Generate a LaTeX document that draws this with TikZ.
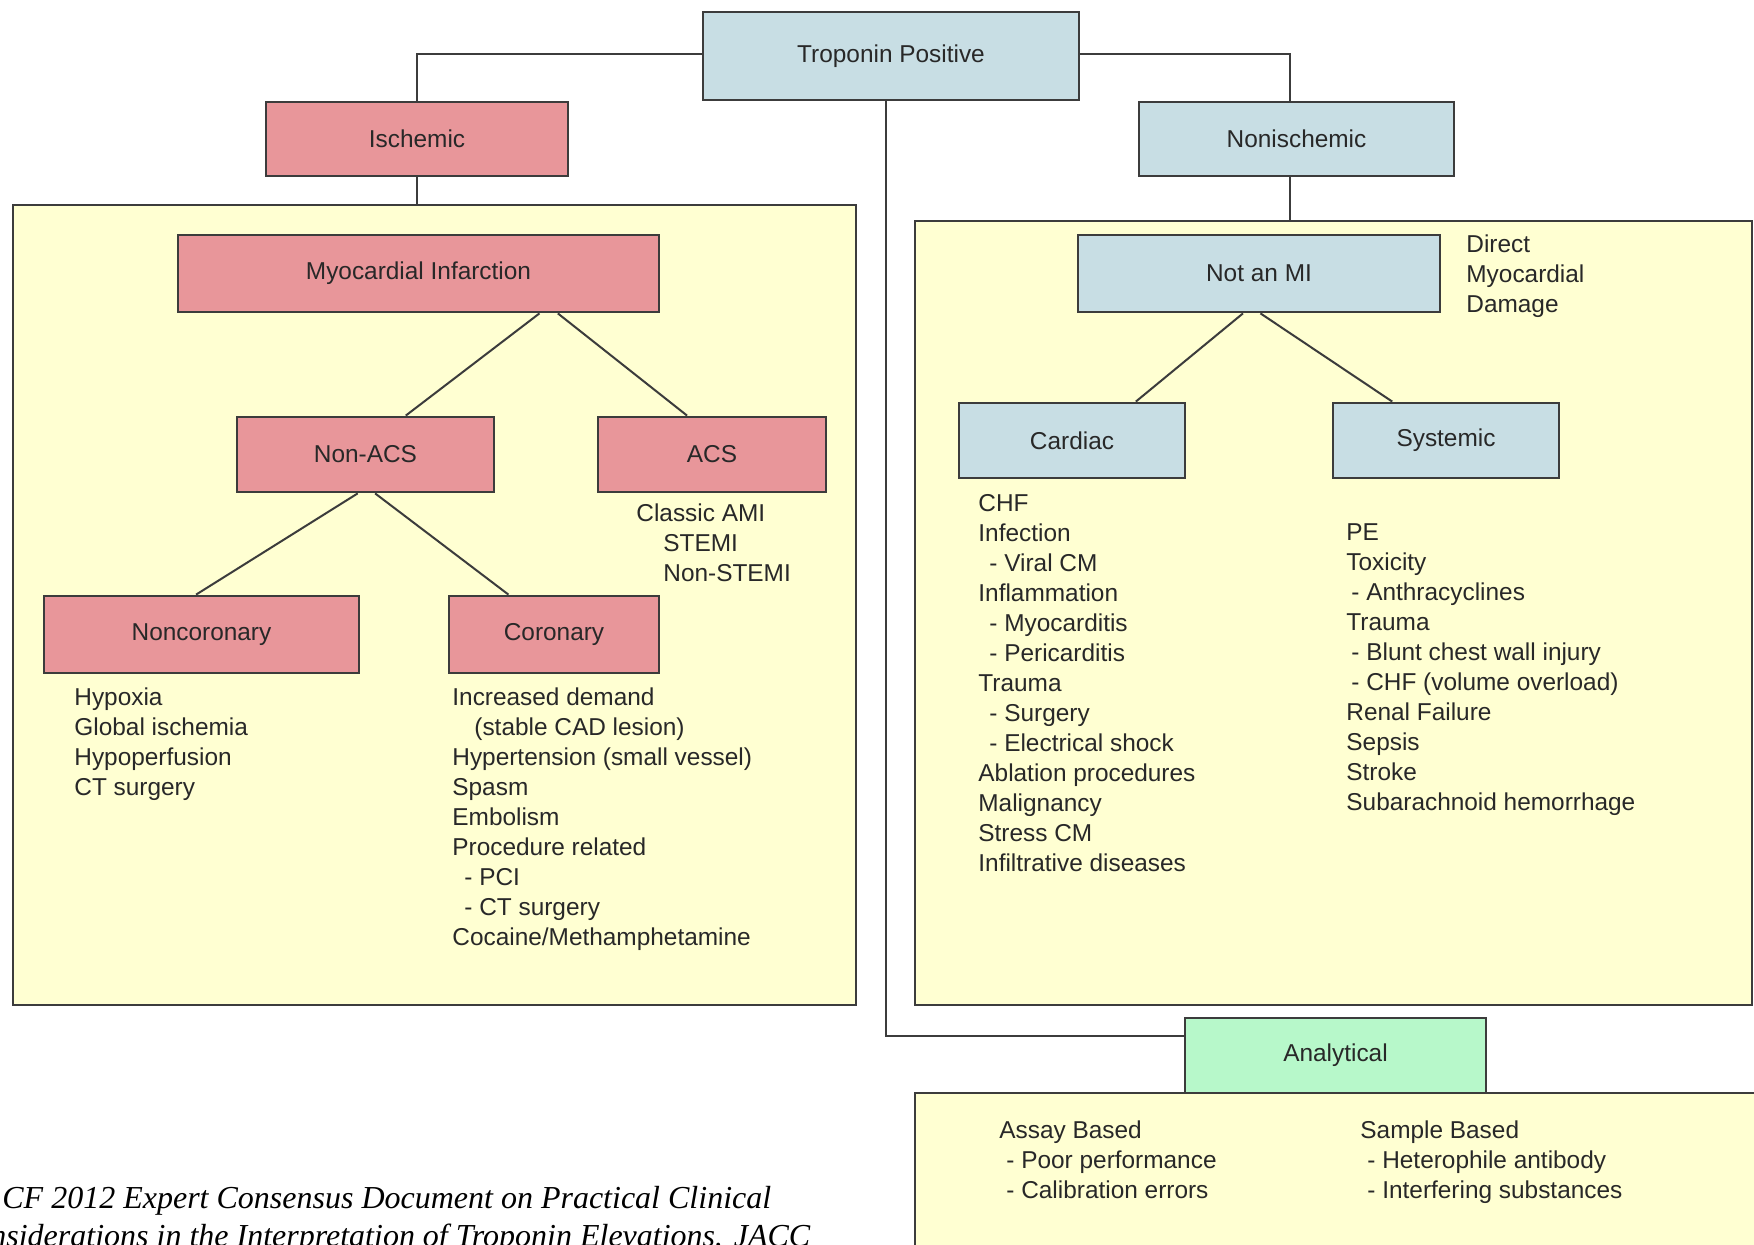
\documentclass[tikz,border=0pt]{standalone}
\usepackage{fontspec}
\setmainfont{Liberation Sans}
\newfontfamily\capfont{Liberation Serif}
\usetikzlibrary{calc}
\definecolor{pinkc}{RGB}{232,150,154}
\definecolor{bluec}{RGB}{200,222,228}
\definecolor{yellowc}{RGB}{255,255,210}
\definecolor{greenc}{RGB}{183,248,202}
\definecolor{linec}{RGB}{60,60,60}
\definecolor{textc}{RGB}{40,40,40}
\tikzset{
  box/.style={draw=linec, line width=1.4pt, inner sep=0pt, align=center, text=textc,
    font=\fontsize{12.2}{15}\selectfont},
  container/.style={draw=linec, line width=1.2pt, fill=yellowc, inner sep=0pt},
  conn/.style={draw=linec, line width=1pt},
  lst/.style={anchor=base west, inner sep=0pt, align=left, text=textc,
    font=\fontsize{12.2}{15}\selectfont},
  captxt/.style={anchor=base west, inner sep=0pt, text=black,
    font=\capfont\itshape\fontsize{16}{19}\selectfont}
}
\begin{document}
\begin{tikzpicture}[x=0.5pt,y=-0.5pt]
\useasboundingbox (0,0) rectangle (1754,1245);
\clip (0,0) rectangle (1754,1245);
\fill[white] (0,0) rectangle (1754,1245);

% containers
\node[container, minimum width=421.5pt, minimum height=400pt] (leftc) at (434.5,605) {};
\node[container, minimum width=418.5pt, minimum height=392pt] (rightc) at (1333.5,613) {};
\node[container, minimum width=425pt, minimum height=86pt] (bottomc) at (1340,1179) {};

% boxes
\node[box, fill=bluec, minimum width=188pt, minimum height=44pt] (trop) at (891,56) {Troponin Positive};
\node[box, fill=pinkc, minimum width=151pt, minimum height=37pt] (isch) at (417,139) {Ischemic};
\node[box, fill=bluec, minimum width=157.5pt, minimum height=37pt] (nonisch) at (1296.5,139) {Nonischemic};
\node[box, fill=pinkc, minimum width=240.5pt, minimum height=38.5pt] (mi) at (418.5,273.5) {Myocardial Infarction};
\node[box, fill=pinkc, minimum width=128.5pt, minimum height=37.5pt] (nonacs) at (365.5,454.5) {Non-ACS};
\node[box, fill=pinkc, minimum width=114pt, minimum height=37.5pt] (acs) at (712,454.5) {ACS};
\node[box, fill=pinkc, minimum width=157.5pt, minimum height=38.5pt] (noncor) at (201.5,634.5) {Noncoronary};
\node[box, fill=pinkc, minimum width=105pt, minimum height=38.5pt] (cor) at (554,634.5) {Coronary};
\node[box, fill=bluec, minimum width=181pt, minimum height=38.5pt] (notmi) at (1259,273.5) {Not an MI};
\node[box, fill=bluec, minimum width=113pt, minimum height=37.5pt] (cardiac) at (1072,440.5) {Cardiac};
\node[box, fill=bluec, minimum width=113pt, minimum height=37.5pt] (systemic) at (1446,440.5) {Systemic};
\node[box, fill=greenc, minimum width=150.5pt, minimum height=37.5pt] (analytical) at (1335.5,1055.5) {Analytical};

% connectors
\draw[conn] ([yshift=1pt]trop.west) -| (isch.north);
\draw[conn] ([yshift=1pt]trop.east) -| ([xshift=-3.5pt]nonisch.north);
\draw[conn] ([xshift=-2.5pt]trop.south) |- ([yshift=9.75pt]analytical.west);
\draw[conn] (isch.south) -- (isch.south |- leftc.north);
\draw[conn] ([xshift=-3.5pt]nonisch.south) -- ([xshift=-3.5pt]nonisch.south |- rightc.north);
\draw[conn] ($(mi.south west)!0.75!(mi.south east)$) -- ($(nonacs.north west)!0.655!(nonacs.north east)$);
\draw[conn] ($(mi.south west)!0.788!(mi.south east)$) -- ($(acs.north west)!0.392!(acs.north east)$);
\draw[conn] ($(nonacs.south west)!0.47!(nonacs.south east)$) -- ($(noncor.north west)!0.483!(noncor.north east)$);
\draw[conn] ($(nonacs.south west)!0.537!(nonacs.south east)$) -- ($(cor.north west)!0.286!(cor.north east)$);
\draw[conn] ($(notmi.south west)!0.456!(notmi.south east)$) -- ($(cardiac.north west)!0.779!(cardiac.north east)$);
\draw[conn] ($(notmi.south west)!0.504!(notmi.south east)$) -- ($(systemic.north west)!0.265!(systemic.north east)$);

% lists (base anchor = baseline of the last line)
\node[lst] (acslist) at (636,581) {Classic AMI\\\hspace{13.5pt}STEMI\\\hspace{13.5pt}Non-STEMI};
\node[lst] (noncorlist) at (74,795) {Hypoxia\\Global ischemia\\Hypoperfusion\\CT surgery};
\node[lst] (corlist) at (452,945) {Increased demand\\\hspace{11pt}(stable CAD lesion)\\Hypertension (small vessel)\\Spasm\\Embolism\\Procedure related\\\hspace{6pt}- PCI\\\hspace{6pt}- CT surgery\\Cocaine/Methamphetamine};
\node[lst] (dmd) at (1466,313) {Direct\\Myocardial\\Damage};
\node[lst] (cardlist) at (978,871) {CHF\\Infection\\\hspace{5.5pt}- Viral CM\\Inflammation\\\hspace{5.5pt}- Myocarditis\\\hspace{5.5pt}- Pericarditis\\Trauma\\\hspace{5.5pt}- Surgery\\\hspace{5.5pt}- Electrical shock\\Ablation procedures\\Malignancy\\Stress CM\\Infiltrative diseases};
\node[lst] (syslist) at (1346,810) {PE\\Toxicity\\\hspace{2.5pt}- Anthracyclines\\Trauma\\\hspace{2.5pt}- Blunt chest wall injury\\\hspace{2.5pt}- CHF (volume overload)\\Renal Failure\\Sepsis\\Stroke\\Subarachnoid hemorrhage};
\node[lst] (assay) at (999,1198) {Assay Based\\\hspace{3.5pt}- Poor performance\\\hspace{3.5pt}- Calibration errors};
\node[lst] (sample) at (1360,1198) {Sample Based\\\hspace{3.5pt}- Heterophile antibody\\\hspace{3.5pt}- Interfering substances};

% caption
\node[captxt] (cap1) at (2,1208) {CF 2012 Expert Consensus Document on Practical Clinical};
\node[captxt] (cap2) at (-10,1246) {nsiderations in the Interpretation of Troponin Elevations. JACC};
\end{tikzpicture}
\end{document}
